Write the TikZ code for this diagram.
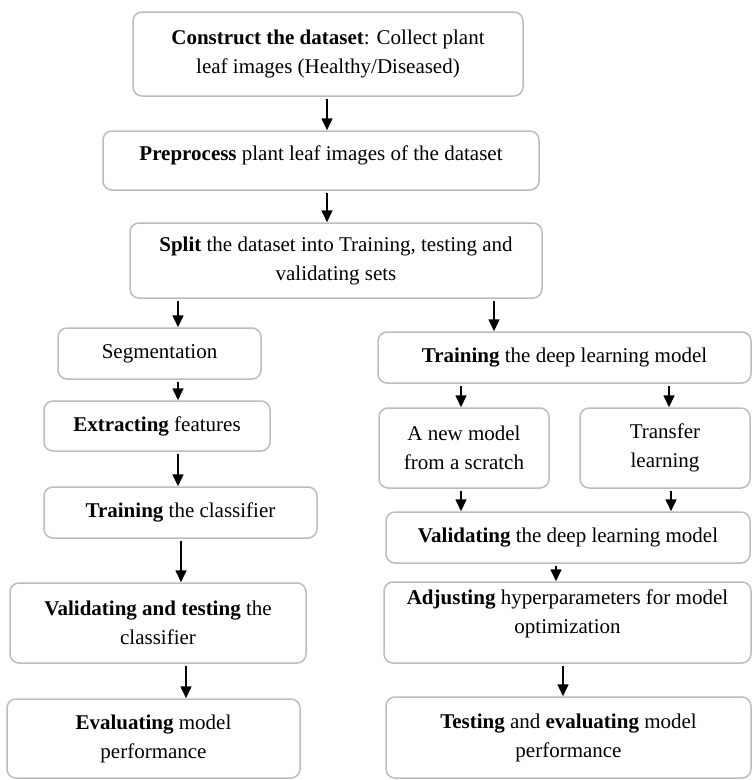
\documentclass[tikz,border=0pt]{standalone}
\usepackage{fontspec}
\setmainfont{Liberation Serif}
\usetikzlibrary{arrows.meta,positioning}
\definecolor{boxgray}{RGB}{188,188,188}

\begin{document}
\begin{tikzpicture}[x=1pt, y=-1pt,
	box/.style={draw=boxgray, line width=1.5pt, rounded corners=9pt, align=center,
		inner sep=0pt, font=\fontsize{21}{29}\selectfont},
	arr/.style={-{Triangle[width=11pt,length=12pt]}, line width=1.6pt, shorten <=2pt}
]
\useasboundingbox (0,0) rectangle (752,780);

% common trunk
\node[box, minimum width=390pt, minimum height=84pt] (construct) at (328,54)
	{\textbf{Construct the dataset}: Collect plant\\ leaf images (Healthy/Diseased)};
\node[box, minimum width=436pt, minimum height=59pt] (preprocess) at (321,160.5)
	{\textbf{Preprocess} plant leaf images of the dataset\\[-14pt]\mbox{}};
\node[box, minimum width=412pt, minimum height=75pt] (split) at (336,260.5)
	{\textbf{Split} the dataset into Training, testing and\\ validating sets};

% left branch: classical pipeline
\node[box, minimum width=203pt, minimum height=51pt] (segment) at (159.5,353.5) {Segmentation};
\node[box, minimum width=226pt, minimum height=50pt] (extract) at (157,426) {\textbf{Extracting} features};
\node[box, minimum width=273pt, minimum height=51pt] (trainclf) at (180.5,512.5) {\textbf{Training} the classifier};
\node[box, minimum width=296pt, minimum height=80pt] (valclf) at (158,623)
	{\textbf{Validating and testing} the\\ classifier};
\node[box, minimum width=293pt, minimum height=79pt] (evalclf) at (153.5,738.5)
	{\textbf{Evaluating} model\\ performance};

% right branch: deep learning
\node[box, minimum width=373pt, minimum height=51pt] (traindl) at (564.5,357.5)
	{\textbf{Training} the deep learning model};
\node[box, minimum width=170pt, minimum height=80pt] (scratch) at (464,448) {A new model\\ from a scratch};
\node[box, minimum width=170pt, minimum height=80pt] (transfer) at (665,448) {Transfer\\ learning};
\node[box, minimum width=364pt, minimum height=51pt] (valdl) at (568,537.5)
	{\textbf{Validating} the deep learning model};
\node[box, minimum width=367pt, minimum height=81pt] (adjust) at (567.5,622.5)
	{\textbf{Adjusting} hyperparameters for model\\ optimization\\[-8pt]\mbox{}};
\node[box, minimum width=365pt, minimum height=81pt] (testdl) at (568.5,737.5)
	{\textbf{Testing} and \textbf{evaluating} model\\ performance};

% connectors
\draw[arr] (construct.south -| 327,0) -- (preprocess.north -| 327,0);
\draw[arr] (preprocess.south -| 327,0) -- (split.north -| 327,0);
\draw[arr] (split.south -| 178,0) -- (segment.north -| 178,0);
\draw[arr] (segment.south -| 178,0) -- (extract.north -| 178,0);
\draw[arr] (extract.south -| 178,0) -- (trainclf.north -| 178,0);
\draw[arr] (trainclf.south -| 181,0) -- (valclf.north -| 181,0);
\draw[arr] (valclf.south -| 186,0) -- (evalclf.north -| 186,0);
\draw[arr] (split.south -| 494,0) -- (traindl.north -| 494,0);
\draw[arr] (traindl.south -| 461,0) -- (scratch.north -| 461,0);
\draw[arr] (traindl.south -| 669,0) -- (transfer.north -| 669,0);
\draw[arr] (scratch.south -| 461,0) -- (valdl.north -| 461,0);
\draw[arr] (transfer.south -| 671,0) -- (valdl.north -| 671,0);
\draw[arr] (valdl.south -| 556,0) -- (adjust.north -| 556,0);
\draw[arr] (adjust.south -| 563,0) -- (testdl.north -| 563,0);
\end{tikzpicture}
\end{document}
